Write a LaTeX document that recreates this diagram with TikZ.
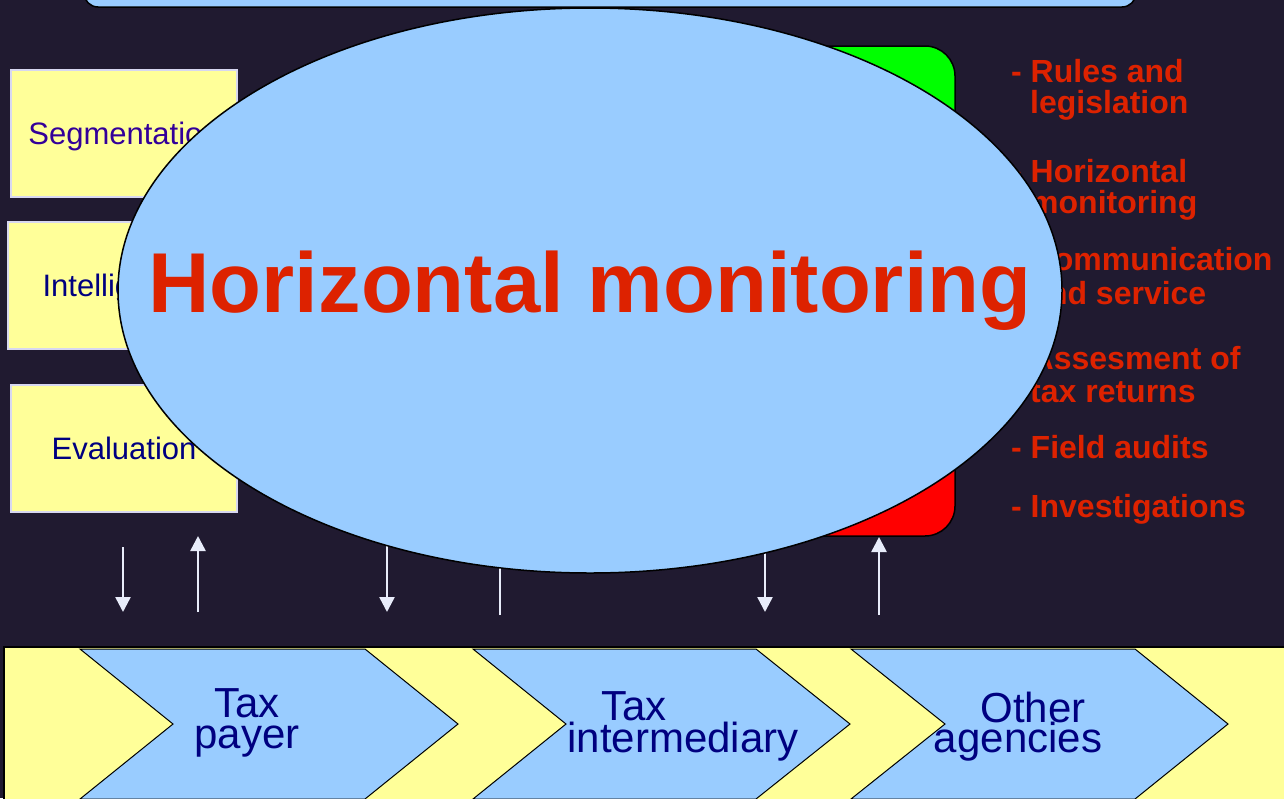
\documentclass[tikz,border=0pt]{standalone}
\usepackage{fontspec}
\setmainfont{Liberation Sans}
\usetikzlibrary{shapes.geometric,arrows.meta}
\definecolor{bg}{RGB}{32,26,48}
\definecolor{lblue}{RGB}{153,204,255}
\definecolor{lyel}{RGB}{255,255,153}
\definecolor{tred}{RGB}{221,34,0}
\definecolor{navy}{RGB}{0,0,128}
\definecolor{segc}{RGB}{51,0,153}
\definecolor{boxline}{RGB}{215,215,240}
\definecolor{arrc}{RGB}{232,236,250}
\begin{document}
\begin{tikzpicture}[x=1pt,y=-1pt,
  sidebox/.style={draw=boxline, line width=1.5pt, fill=lyel, minimum width=226pt, minimum height=127pt, inner sep=0pt, text height=22pt, text depth=0pt, font=\fontsize{31}{31}\selectfont, text=navy},
  listtext/.style={anchor=base west, inner sep=0pt, text=tred, font=\bfseries\fontsize{32}{32}\selectfont},
  chevtext/.style={anchor=base, inner sep=0pt, text=navy, font=\fontsize{42}{42}\selectfont},
  chev/.style={draw=black, line width=1pt, fill=lblue},
  flow/.style={draw=arrc, line width=2.5pt, -{Triangle[length=15pt,width=15pt]}},
]
\useasboundingbox (0,0) rectangle (1284,798);
\fill[bg] (0,0) rectangle (1284,798);

% top bar
\node[draw=black, line width=1.5pt, fill=lblue, rounded corners=14pt, minimum width=1052pt, minimum height=60pt, inner sep=0pt] (topbar) at (610,-23) {};

% left boxes
\node[sidebox, text=segc] (seg) at (124,133.5) {Segmentation};
\node[sidebox] (intel) at (121,285.5) {Intelligence};
\node[sidebox] (eval) at (124,448.5) {Evaluation};

% traffic-light box
\node[draw=black, line width=1.5pt, rounded corners=30pt, minimum width=355pt, minimum height=490pt, inner sep=0pt,
  path picture={\fill[green] (path picture bounding box.north west) rectangle (path picture bounding box.east);
                \fill[red] (path picture bounding box.west) rectangle (path picture bounding box.south east);}]
  (light) at (777.5,291) {};

% list
\node[listtext] (l1a) at (1011,82) {- Rules and};
\node[listtext] (l1b) at (1030,113) {legislation};
\node[listtext] (l2a) at (1011,182) {- Horizontal};
\node[listtext] (l2b) at (1030,213) {monitoring};
\node[listtext] (l3a) at (1011,270) {- Communication};
\node[listtext] (l3b) at (1030,304) {and service};
\node[listtext] (l4a) at (1011,369) {- Assesment of};
\node[listtext] (l4b) at (1030,402) {tax returns};
\node[listtext] (l5) at (1011,458) {- Field audits};
\node[listtext] (l6) at (1011,517) {- Investigations};

% arrow end points
\coordinate (d1s) at (123,547); \coordinate (d1e) at (123,612);
\coordinate (u1s) at (198,612); \coordinate (u1e) at (198,536);
\coordinate (d2s) at (387,540); \coordinate (d2e) at (387,612);
\coordinate (u2s) at (500,615); \coordinate (u2e) at (500,537);
\coordinate (d3s) at (765,540); \coordinate (d3e) at (765,612);
\coordinate (u3s) at (879,615); \coordinate (u3e) at (879,537);
\draw[flow] (d1s) -- (d1e);
\draw[flow] (u1s) -- (u1e);
\draw[flow] (d2s) -- (d2e);
\draw[flow] (u2s) -- (u2e);
\draw[flow] (d3s) -- (d3e);
\draw[flow] (u3s) -- (u3e);

% central ellipse
\node[ellipse, draw=black, line width=1.5pt, fill=lblue, minimum width=944pt, minimum height=565pt, inner sep=0pt] (hm) at (590,290.5) {};
\node[anchor=base, inner sep=0pt, text=tred, font=\bfseries\fontsize{85}{85}\selectfont] (title) at (590,312) {Horizontal monitoring};

% bottom band
\draw[fill=lyel, draw=black, line width=2pt] (4,647) rectangle (1295,815);
\draw[chev] (80,649) -- (365,649) -- (458,724) -- (365,799) -- (80,799) -- (173,724) -- cycle;
\draw[chev] (473,649) -- (756,649) -- (850,724) -- (756,799) -- (473,799) -- (566,724) -- cycle;
\draw[chev] (851,649) -- (1135,649) -- (1228,724) -- (1135,799) -- (851,799) -- (945,724) -- cycle;
\draw[black, line width=2pt] (4,647) -- (1295,647);

\node[chevtext] (c1a) at (247,717) {Tax};
\node[chevtext] (c1b) at (247,748) {payer};
\node[chevtext] (c2a) at (634,720) {Tax};
\node[chevtext] (c2b) at (683,752) {intermediary};
\node[chevtext] (c3a) at (1033,722) {Other};
\node[chevtext] (c3b) at (1018,752) {agencies};
\end{tikzpicture}
\end{document}
